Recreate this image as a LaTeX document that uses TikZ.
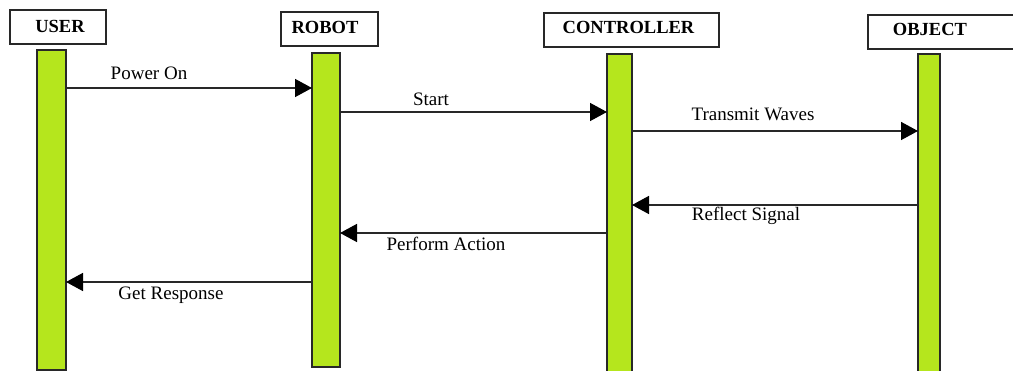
\documentclass[tikz,border=0pt]{standalone}
\usepackage{fontspec}
\setmainfont{Liberation Serif}
\usetikzlibrary{arrows.meta}
\definecolor{lifegreen}{RGB}{181,230,29}
\definecolor{inkline}{RGB}{40,40,40}
\tikzset{
  headbox/.style={draw=inkline, line width=1.4pt, fill=white, inner sep=0pt, outer sep=0pt},
  headtext/.style={anchor=base, inner sep=0pt, font=\fontsize{18.5}{22}\selectfont\bfseries},
  lifebar/.style={draw=inkline, line width=1.4pt, fill=lifegreen, inner sep=0pt, outer sep=0pt},
  msg/.style={draw=inkline, line width=1.5pt, -{Triangle[length=17pt,width=18pt,color=black]}},
  msglabel/.style={anchor=base, inner sep=0pt, font=\fontsize{19}{23}\selectfont}
}
\begin{document}
\begin{tikzpicture}[x=1pt, y=-1pt]
\useasboundingbox (0,0) rectangle (1013,371);
\fill[white] (0,0) rectangle (1013,371);

% participant headers
\node[headbox, minimum width=96pt, minimum height=34pt] (userbox) at (58,27) {};
\node[headtext] (usertxt) at (60,33) {USER};
\node[headbox, minimum width=97pt, minimum height=34pt] (robotbox) at (329.5,29) {};
\node[headtext] (robottxt) at (325,34) {ROBOT};
\node[headbox, minimum width=175pt, minimum height=34pt] (ctrlbox) at (631.5,30) {};
\node[headtext] (ctrltxt) at (628.5,34) {CONTROLLER};
\node[headbox, minimum width=156pt, minimum height=34pt] (objbox) at (946,32) {};
\node[headtext] (objtxt) at (930,36) {OBJECT};

% lifelines
\node[lifebar, minimum width=29pt, minimum height=320pt] (userbar) at (51.5,210) {};
\node[lifebar, minimum width=28pt, minimum height=314pt] (robotbar) at (326,210) {};
\node[lifebar, minimum width=25pt, minimum height=322pt] (ctrlbar) at (619.5,215) {};
\node[lifebar, minimum width=22pt, minimum height=322pt] (objbar) at (929,215) {};

% messages
\draw[msg] (userbar.east |- 0,88) -- (robotbar.west |- 0,88);
\node[msglabel] (lpower) at (149,80) {Power On};

\draw[msg] (robotbar.east |- 0,112) -- (ctrlbar.west |- 0,112);
\node[msglabel] (lstart) at (431,106) {Start};

\draw[msg] (ctrlbar.east |- 0,131) -- (objbar.west |- 0,131);
\node[msglabel] (ltransmit) at (753,121) {Transmit Waves};

\draw[msg] (objbar.west |- 0,205) -- (ctrlbar.east |- 0,205);
\node[msglabel] (lreflect) at (746,221) {Reflect Signal};

\draw[msg] (ctrlbar.west |- 0,233) -- (robotbar.east |- 0,233);
\node[msglabel] (lperform) at (446,251) {Perform Action};

\draw[msg] (robotbar.west |- 0,282) -- (userbar.east |- 0,282);
\node[msglabel] (lresponse) at (171,300) {Get Response};
\end{tikzpicture}
\end{document}
